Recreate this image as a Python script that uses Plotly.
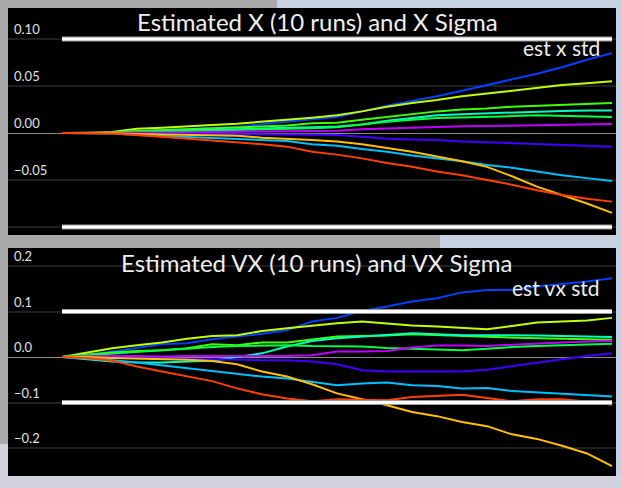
import plotly.graph_objects as go
from plotly.subplots import make_subplots

# ---------------- data ----------------
t_sec = list(range(23))  # sample times (s)

run_colors = ["#0040FF", "#BFFF00", "#40FF00", "#00FFBF", "#00FF40",
              "#BF00FF", "#4000FF", "#00BFFF", "#FFBF00", "#FF4000"]

# Estimated X for each of the 10 runs
x_run1 = [0, 0, 0.0005, 0.002, 0.003, 0.004, 0.005, 0.0065, 0.0096, 0.012, 0.0149, 0.017, 0.023, 0.029, 0.034, 0.039, 0.045, 0.051, 0.057, 0.063, 0.070, 0.078, 0.085]
x_run2 = [0, 0, 0.001, 0.0046, 0.0057, 0.0067, 0.0085, 0.0099, 0.012, 0.014, 0.0163, 0.019, 0.023, 0.028, 0.032, 0.035, 0.039, 0.042, 0.045, 0.048, 0.051, 0.053, 0.055]
x_run3 = [0, 0, 0.0005, 0.002, 0.003, 0.004, 0.005, 0.006, 0.007, 0.008, 0.0105, 0.011, 0.014, 0.017, 0.020, 0.023, 0.025, 0.026, 0.028, 0.029, 0.030, 0.031, 0.032]
x_run4 = [0, 0, 0, 0.001, 0.002, 0.003, 0.0035, 0.004, 0.005, 0.0055, 0.006, 0.007, 0.009, 0.013, 0.016, 0.019, 0.020, 0.021, 0.022, 0.023, 0.0235, 0.024, 0.024]
x_run5 = [0, 0, 0, 0.001, 0.0015, 0.002, 0.003, 0.0035, 0.004, 0.0045, 0.005, 0.006, 0.009, 0.012, 0.014, 0.016, 0.0165, 0.017, 0.018, 0.019, 0.0185, 0.018, 0.017]
x_run6 = [0, 0, 0, 0, 0.0003, 0.0005, 0.001, 0.0012, 0.0015, 0.0018, 0.002, 0.0025, 0.004, 0.005, 0.006, 0.007, 0.0072, 0.0074, 0.008, 0.0085, 0.009, 0.0096, 0.0096]
x_run7 = [0, 0, 0, -0.0005, -0.0007, -0.001, -0.0012, -0.0013, -0.0015, -0.0017, -0.0019, -0.002, -0.004, -0.006, -0.007, -0.0075, -0.009, -0.010, -0.011, -0.012, -0.013, -0.0135, -0.0145]
x_run8 = [0, 0, -0.0005, -0.002, -0.003, -0.004, -0.005, -0.006, -0.007, -0.0085, -0.012, -0.0135, -0.017, -0.020, -0.024, -0.027, -0.030, -0.034, -0.037, -0.041, -0.045, -0.048, -0.051]
x_run9 = [0, 0, 0, -0.001, -0.0015, -0.002, -0.0025, -0.003, -0.005, -0.006, -0.0075, -0.009, -0.012, -0.016, -0.020, -0.025, -0.030, -0.036, -0.046, -0.057, -0.066, -0.075, -0.085]
x_run10 = [0, 0, -0.0005, -0.002, -0.004, -0.0057, -0.0074, -0.0099, -0.012, -0.0145, -0.020, -0.023, -0.027, -0.032, -0.036, -0.041, -0.045, -0.050, -0.055, -0.061, -0.066, -0.070, -0.073]

# Estimated VX for each of the 10 runs
vx_run1 = [0, 0.005, 0.012, 0.020, 0.028, 0.030, 0.039, 0.045, 0.051, 0.059, 0.078, 0.086, 0.101, 0.111, 0.122, 0.129, 0.142, 0.147, 0.147, 0.155, 0.160, 0.166, 0.173]
vx_run2 = [0, 0.010, 0.019, 0.026, 0.032, 0.040, 0.046, 0.048, 0.057, 0.063, 0.069, 0.074, 0.078, 0.074, 0.069, 0.067, 0.064, 0.061, 0.068, 0.076, 0.078, 0.080, 0.086]
vx_run3 = [0, 0.005, 0.010, 0.013, 0.015, 0.019, 0.028, 0.026, 0.032, 0.032, 0.038, 0.045, 0.046, 0.047, 0.050, 0.048, 0.046, 0.044, 0.042, 0.041, 0.040, 0.039, 0.038]
vx_run4 = [0, -0.005, -0.010, -0.012, -0.012, -0.010, -0.008, 0.000, 0.008, 0.023, 0.035, 0.041, 0.045, 0.048, 0.052, 0.050, 0.048, 0.048, 0.048, 0.047, 0.046, 0.045, 0.044]
vx_run5 = [0, 0.004, 0.008, 0.012, 0.015, 0.018, 0.022, 0.024, 0.025, 0.026, 0.024, 0.023, 0.023, 0.020, 0.018, 0.016, 0.015, 0.018, 0.022, 0.024, 0.026, 0.028, 0.029]
vx_run6 = [0, 0.002, 0.003, 0.002, 0.001, 0.002, 0.002, 0.001, 0.002, 0.002, 0.004, 0.012, 0.012, 0.013, 0.021, 0.025, 0.025, 0.024, 0.027, 0.030, 0.032, 0.034, 0.035]
vx_run7 = [0, -0.001, -0.002, -0.003, -0.004, -0.005, -0.005, -0.006, -0.007, -0.007, -0.010, -0.016, -0.029, -0.032, -0.032, -0.031, -0.032, -0.028, -0.020, -0.012, -0.005, 0.002, 0.008]
vx_run8 = [0, -0.003, -0.007, -0.012, -0.018, -0.025, -0.031, -0.036, -0.043, -0.047, -0.055, -0.062, -0.058, -0.056, -0.062, -0.064, -0.069, -0.068, -0.075, -0.078, -0.080, -0.083, -0.087]
vx_run9 = [0, 0.000, -0.002, -0.003, -0.004, -0.006, -0.009, -0.016, -0.032, -0.043, -0.060, -0.080, -0.093, -0.106, -0.121, -0.130, -0.143, -0.152, -0.170, -0.180, -0.195, -0.212, -0.240]
vx_run10 = [0, -0.002, -0.008, -0.021, -0.032, -0.043, -0.053, -0.069, -0.082, -0.091, -0.097, -0.093, -0.094, -0.095, -0.088, -0.085, -0.083, -0.090, -0.097, -0.093, -0.093, -0.098, -0.105]

x_runs = [x_run1, x_run2, x_run3, x_run4, x_run5, x_run6, x_run7, x_run8, x_run9, x_run10]
vx_runs = [vx_run1, vx_run2, vx_run3, vx_run4, vx_run5, vx_run6, vx_run7, vx_run8, vx_run9, vx_run10]

sigma_t = [0, 22]
x_sigma = [0.10, 0.10]
vx_sigma = [0.10, 0.10]

x_tickvals = [-0.10, -0.05, 0.00, 0.05, 0.10]
x_ticktext = ["", "\u22120.05", "0.00", "0.05", "0.10"]
vx_tickvals = [-0.2, -0.1, 0.0, 0.1, 0.2]
vx_ticktext = ["\u22120.2", "\u22120.1", "0.0", "0.1", "0.2"]

titles = ["Estimated X (10 runs) and X Sigma", "Estimated VX (10 runs) and VX Sigma"]
legends = ["est x std", "est vx std"]

# ---------------- figure ----------------
W, H = 622, 488
fig = make_subplots(rows=2, cols=1)

for i in range(10):
    fig.add_trace(go.Scatter(x=t_sec, y=x_runs[i], mode="lines",
                             line=dict(color=run_colors[i], width=2), showlegend=False),
                  row=1, col=1)
    fig.add_trace(go.Scatter(x=t_sec, y=vx_runs[i], mode="lines",
                             line=dict(color=run_colors[i], width=2), showlegend=False),
                  row=2, col=1)

for row, sig in ((1, x_sigma), (2, vx_sigma)):
    for sgn in (1, -1):
        yy = [sgn * v for v in sig]
        fig.add_trace(go.Scatter(x=sigma_t, y=yy, mode="lines",
                                 line=dict(color="#9a9a9a", width=5), showlegend=False),
                      row=row, col=1)
        fig.add_trace(go.Scatter(x=sigma_t, y=yy, mode="lines",
                                 line=dict(color="#ffffff", width=3), showlegend=False),
                      row=row, col=1)

xdom = [8 / W, 616 / W]
xrange = [-54 / 25, 22 + 4 / 25]
axis_common = dict(showgrid=False, zeroline=False, showticklabels=False, showline=False)
fig.update_xaxes(domain=xdom, range=xrange, **axis_common)

ycommon = dict(showgrid=True, gridcolor="#202020", gridwidth=2,
               zeroline=True, zerolinecolor="#8a8a8a", zerolinewidth=1,
               showline=False, ticks="", ticklabelposition="inside top",
               ticklabelstandoff=3,
               tickfont=dict(family="Lato", size=13, color="#e0e0e0"))
fig.update_yaxes(domain=[1 - 235 / H, 1 - 8 / H], range=[-102 / 940, 125 / 940],
                 tickvals=x_tickvals, ticktext=x_ticktext, row=1, col=1, **ycommon)
fig.update_yaxes(domain=[1 - 476 / H, 1 - 248 / H], range=[-119 / 455, 109 / 455],
                 tickvals=vx_tickvals, ticktext=vx_ticktext, row=2, col=1, **ycommon)

# background (desktop around the two panels)
gray = "#a9a9a9"
lav = "#d2d3de"
shapes = [
    dict(x0=0, x1=277 / W, y0=1 - 8 / H, y1=1, fillcolor=gray),
    dict(x0=0, x1=8 / W, y0=1 - 444 / H, y1=1, fillcolor=gray),
    dict(x0=0, x1=440 / W, y0=1 - 248 / H, y1=1 - 235 / H, fillcolor=gray),
    dict(x0=0, x1=1, y0=0, y1=1 - 476 / H, fillcolor=lav),
    dict(x0=0, x1=8 / W, y0=0, y1=1 - 444 / H, fillcolor=lav),
]
for s in shapes:
    s.update(type="rect", xref="paper", yref="paper", layer="below", line=dict(width=0))
fig.update_layout(shapes=shapes)

ann = [
    dict(text=titles[0], x=317 / W, y=1 - 22 / H, font=dict(size=24, color="#eeeeee")),
    dict(text=legends[0], x=602 / W, y=1 - 47 / H, xanchor="right", font=dict(size=21, color="#eeeeee")),
    dict(text=titles[1], x=316 / W, y=1 - 262 / H, font=dict(size=24, color="#eeeeee")),
    dict(text=legends[1], x=602 / W, y=1 - 287 / H, xanchor="right", font=dict(size=21, color="#eeeeee")),
]
for a in ann:
    a.update(xref="paper", yref="paper", showarrow=False, yanchor="middle")
    a["font"]["family"] = "Lato"
    a.setdefault("xanchor", "center")
fig.update_layout(annotations=ann)

fig.update_layout(width=W, height=H, margin=dict(l=0, r=0, t=0, b=0),
                  paper_bgcolor="#c6d2e0", plot_bgcolor="#000000",
                  showlegend=False)

fig.write_html("out.html")
